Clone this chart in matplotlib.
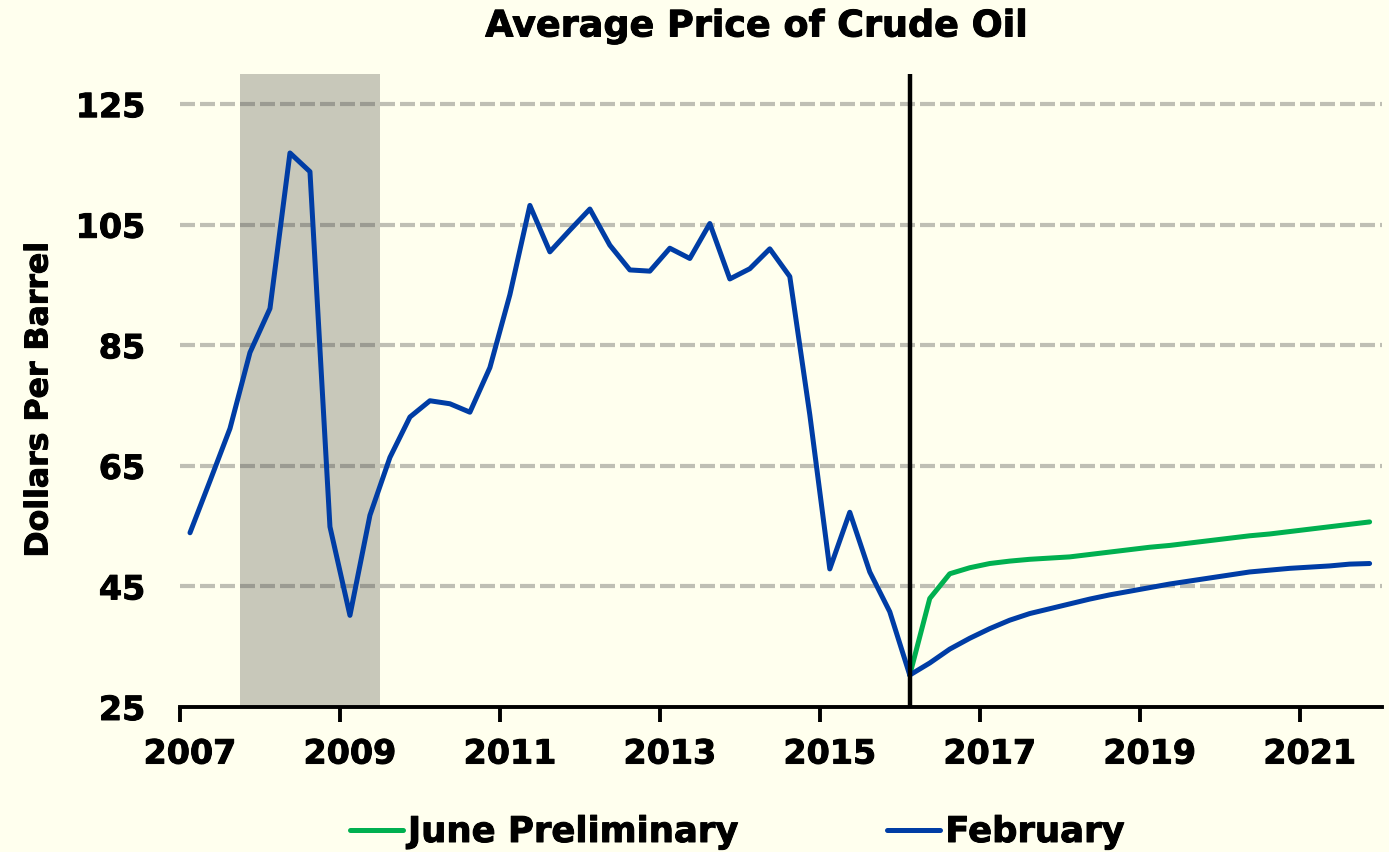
import matplotlib.pyplot as plt
import matplotlib.patheffects as pe
import numpy as np

# quarterly average crude oil price, dollars per barrel
hist_start = 2007
hist_price = [53.9, 62.5, 71.2, 83.8,
              91.1, 116.9, 113.8, 54.9,
              40.2, 56.8, 66.4, 73.1,
              75.8, 75.3, 73.9, 81.3,
              93.4, 108.2, 100.5, 104.1,
              107.6, 101.6, 97.5, 97.3,
              101.1, 99.4, 105.2, 96.0,
              97.7, 101.0, 96.4, 73.5,
              47.9, 57.3, 47.4, 40.8,
              30.3]

# forecasts from 2016 Q1 to 2021 Q4
fcst_start = 2016
june_prelim = [30.3, 43.0, 47.1, 48.1, 48.8, 49.2, 49.5, 49.7,
               49.9, 50.3, 50.7, 51.1, 51.5, 51.8, 52.2, 52.6,
               53.0, 53.4, 53.7, 54.1, 54.5, 54.9, 55.3, 55.7]
february = [30.3, 32.3, 34.6, 36.4, 38.0, 39.4, 40.5, 41.3,
            42.1, 42.9, 43.6, 44.2, 44.8, 45.4, 45.9, 46.4,
            46.9, 47.4, 47.7, 48.0, 48.2, 48.4, 48.7, 48.8]

recession = (2007.75, 2009.5)
y_ticks = [25, 45, 65, 85, 105, 125]
x_labels = ['2007', '2009', '2011', '2013', '2015', '2017', '2019', '2021']

BG = '#FFFFEE'
BLUE = '#003DA5'
GREEN = '#00B050'

# a thin outline makes DejaVu bold look closer to the heavy original
heavy = [pe.withStroke(linewidth=0.7, foreground='black')]


def quarter_pos(start_year, n):
    # quarters drawn at the middle of each quarter
    return start_year + 0.125 + 0.25 * np.arange(n)


x_hist = quarter_pos(hist_start, len(hist_price))
x_fcst = quarter_pos(fcst_start, len(february))

fig = plt.figure(figsize=(13.89, 8.52), dpi=100, facecolor=BG)
ax = fig.add_axes([180 / 1389, 1 - 707 / 852, 1202 / 1389, 633 / 852])
ax.set_facecolor(BG)

ax.axvspan(recession[0], recession[1], color='#C8C8BA', zorder=0.5, lw=0)

for yv in y_ticks[1:]:
    ax.axhline(yv, color='#484848', alpha=0.35, lw=3, dashes=(3.6, 1.2), zorder=1)

ax.plot(x_fcst, june_prelim, color=GREEN, lw=3.6, solid_capstyle='round',
        label='June Preliminary', zorder=3)
ax.plot(x_fcst, february, color=BLUE, lw=3.6, solid_capstyle='round',
        label='February', zorder=4)
ax.plot(x_hist, hist_price, color=BLUE, lw=3.6, solid_capstyle='round', zorder=4)

ax.axvline(x_hist[-1], color='black', lw=3.2, zorder=5)

ax.set_xlim(2007, 2022.03)
ax.set_ylim(25, 130)

# y axis: labels only, no spine
ax.set_yticks(y_ticks)
ax.set_yticklabels([str(v) for v in y_ticks], fontsize=24, fontweight='bold')
ax.tick_params(axis='y', length=0, pad=25)

# x axis: tick marks at year boundaries, labels centered on first quarter
major = [int(s) for s in x_labels]
ax.set_xticks(major)
ax.set_xticklabels([''] * len(major))
ax.set_xticks([m + 0.125 for m in major], minor=True)
ax.set_xticklabels(x_labels, minor=True, fontsize=24, fontweight='bold')
ax.tick_params(axis='x', which='major', length=11, width=2.8, direction='out')
ax.tick_params(axis='x', which='minor', length=0, pad=22)

for lbl in ax.get_yticklabels() + ax.get_xticklabels(minor=True):
    lbl.set_path_effects(heavy)

for s in ['left', 'right', 'top']:
    ax.spines[s].set_visible(False)
ax.spines['bottom'].set_linewidth(2.8)
ax.spines['bottom'].set_zorder(6)

fig.text(757 / 1389, 1 - 26 / 852, 'Average Price of Crude Oil',
         ha='center', va='center', fontsize=26.3, fontweight='bold',
         path_effects=heavy)
fig.text(39 / 1389, 1 - 400 / 852, 'Dollars Per Barrel', rotation=90,
         ha='center', va='center', fontsize=22.7, fontweight='bold',
         path_effects=heavy)

handles, labels = ax.get_legend_handles_labels()
leg = fig.legend(handles, labels, loc='center',
                 bbox_to_anchor=(737 / 1389, 1 - 832 / 852),
                 ncol=2, frameon=False, prop={'size': 25.5, 'weight': 'bold'},
                 handlelength=1.5, handletextpad=0.15, columnspacing=4.2)
for t in leg.get_texts():
    t.set_path_effects(heavy)

fig.savefig('out.png', dpi=100, facecolor=BG)
